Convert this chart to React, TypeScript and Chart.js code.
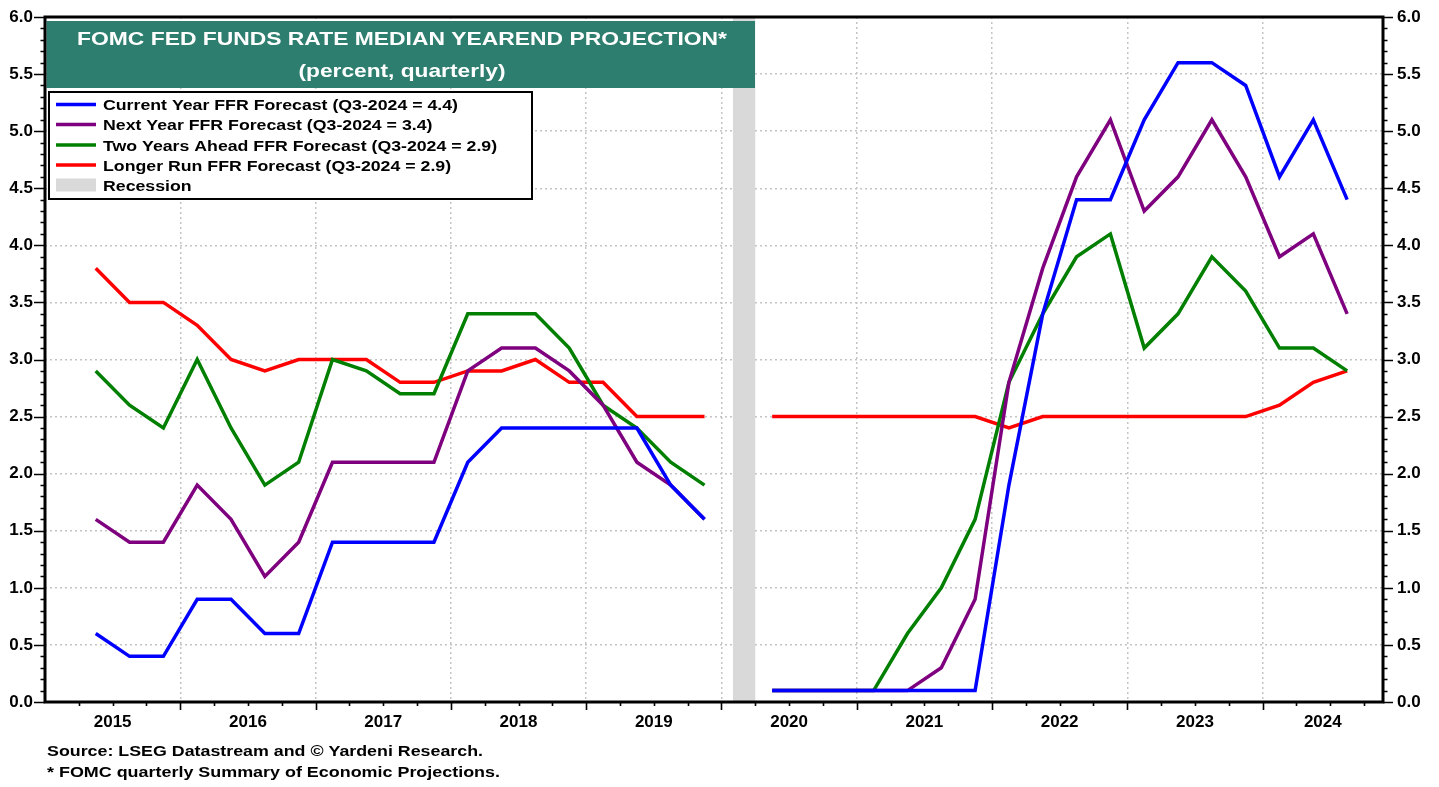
import React, { useEffect, useRef } from 'react';
import { Chart, registerables } from 'chart.js';

Chart.register(...registerables);

// ---------- DATA ----------
const TITLE = 'FOMC FED FUNDS RATE MEDIAN YEAREND PROJECTION*';
const SUBTITLE = '(percent, quarterly)';
const NOTE_SOURCE = 'Source: LSEG Datastream and \u00A9 Yardeni Research.';
const NOTE_FOOT = '* FOMC quarterly Summary of Economic Projections.';

const YEAR_LABELS = ['2015', '2016', '2017', '2018', '2019', '2020', '2021', '2022', '2023', '2024'];
const Y_TICK_VALUES = [0, 0.5, 1, 1.5, 2, 2.5, 3, 3.5, 4, 4.5, 5, 5.5, 6];
const X_RANGE = [2015, 2024.89];

const QUARTERS = [
  '2015-Q2', '2015-Q3', '2015-Q4',
  '2016-Q1', '2016-Q2', '2016-Q3', '2016-Q4',
  '2017-Q1', '2017-Q2', '2017-Q3', '2017-Q4',
  '2018-Q1', '2018-Q2', '2018-Q3', '2018-Q4',
  '2019-Q1', '2019-Q2', '2019-Q3', '2019-Q4',
  '2020-Q1', '2020-Q2', '2020-Q3', '2020-Q4',
  '2021-Q1', '2021-Q2', '2021-Q3', '2021-Q4',
  '2022-Q1', '2022-Q2', '2022-Q3', '2022-Q4',
  '2023-Q1', '2023-Q2', '2023-Q3', '2023-Q4',
  '2024-Q1', '2024-Q2', '2024-Q3',
];

const CURRENT_YEAR = [
  0.6, 0.4, 0.4,
  0.9, 0.9, 0.6, 0.6,
  1.4, 1.4, 1.4, 1.4,
  2.1, 2.4, 2.4, 2.4,
  2.4, 2.4, 1.9, 1.6,
  null, 0.1, 0.1, 0.1,
  0.1, 0.1, 0.1, 0.1,
  1.9, 3.4, 4.4, 4.4,
  5.1, 5.6, 5.6, 5.4,
  4.6, 5.1, 4.4,
];
const NEXT_YEAR = [
  1.6, 1.4, 1.4,
  1.9, 1.6, 1.1, 1.4,
  2.1, 2.1, 2.1, 2.1,
  2.9, 3.1, 3.1, 2.9,
  2.6, 2.1, 1.9, 1.6,
  null, 0.1, 0.1, 0.1,
  0.1, 0.1, 0.3, 0.9,
  2.8, 3.8, 4.6, 5.1,
  4.3, 4.6, 5.1, 4.6,
  3.9, 4.1, 3.4,
];
const TWO_YEARS_AHEAD = [
  2.9, 2.6, 2.4,
  3.0, 2.4, 1.9, 2.1,
  3.0, 2.9, 2.7, 2.7,
  3.4, 3.4, 3.4, 3.1,
  2.6, 2.4, 2.1, 1.9,
  null, 0.1, 0.1, 0.1,
  0.1, 0.6, 1.0, 1.6,
  2.8, 3.4, 3.9, 4.1,
  3.1, 3.4, 3.9, 3.6,
  3.1, 3.1, 2.9,
];
const LONGER_RUN = [
  3.8, 3.5, 3.5,
  3.3, 3.0, 2.9, 3.0,
  3.0, 3.0, 2.8, 2.8,
  2.9, 2.9, 3.0, 2.8,
  2.8, 2.5, 2.5, 2.5,
  null, 2.5, 2.5, 2.5,
  2.5, 2.5, 2.5, 2.5,
  2.4, 2.5, 2.5, 2.5,
  2.5, 2.5, 2.5, 2.5,
  2.6, 2.8, 2.9,
];

const SERIES_LABELS = [
  'Current Year FFR Forecast (Q3-2024 = 4.4)',
  'Next Year FFR Forecast (Q3-2024 = 3.4)',
  'Two Years Ahead FFR Forecast (Q3-2024 = 2.9)',
  'Longer Run FFR Forecast (Q3-2024 = 2.9)',
];
const SERIES_COLORS = ['#0000ff', '#7f007f', '#007f00', '#ff0000'];
const RECESSION_LABEL = 'Recession';
const RECESSION_PERIOD = [2020.085, 2020.25]; // Feb 2020 - Apr 2020

// ---------- STYLE ----------
const FONT = '"Liberation Sans", Arial, Helvetica, sans-serif';
const GRID_COLOR = '#c4c4c4';
const TEAL = '#2e7e6f';
const RECESSION_COLOR = '#d9d9d9';

const quarterToX = (q: string) => {
  const [y, qq] = q.split('-Q');
  return Number(y) + (Number(qq) - 0.5) / 4;
};

function drawFitText(
  ctx: CanvasRenderingContext2D,
  text: string,
  x: number,
  y: number,
  size: number,
  width: number,
  align: CanvasTextAlign,
  color: string
) {
  ctx.save();
  ctx.font = `bold ${size}px ${FONT}`;
  ctx.fillStyle = color;
  ctx.textBaseline = 'alphabetic';
  ctx.textAlign = align;
  const w = ctx.measureText(text).width || 1;
  ctx.translate(x, y);
  ctx.scale(width / w, 1);
  ctx.fillText(text, 0, 0);
  ctx.restore();
}

const decorPlugin = {
  id: 'decor',
  beforeDatasetsDraw(chart: any) {
    const { ctx, chartArea: a, scales } = chart;
    const x = scales.x;
    const x1 = x.getPixelForValue(RECESSION_PERIOD[0]);
    const x2 = x.getPixelForValue(RECESSION_PERIOD[1]);
    ctx.save();
    ctx.fillStyle = RECESSION_COLOR;
    ctx.fillRect(x1, a.top, x2 - x1, a.bottom - a.top);
    ctx.restore();
  },
  afterDatasetsDraw(chart: any) {
    const { ctx, chartArea: a } = chart;
    // Title box
    const bl = a.left + 1.5;
    const br = 755;
    const bt = a.top + 4;
    const bb = 88;
    ctx.save();
    ctx.fillStyle = TEAL;
    ctx.fillRect(bl, bt, br - bl, bb - bt);
    ctx.restore();
    drawFitText(ctx, TITLE, 402, 45, 19, 650, 'center', '#ffffff');
    drawFitText(ctx, SUBTITLE, 402, 77, 19, 207, 'center', '#ffffff');

    // Legend box
    const lx = 49, ly = 92, lw = 483, lh = 107;
    ctx.save();
    ctx.fillStyle = '#ffffff';
    ctx.fillRect(lx, ly, lw, lh);
    ctx.strokeStyle = '#000000';
    ctx.lineWidth = 2;
    ctx.strokeRect(lx, ly, lw, lh);
    ctx.restore();

    const rowY = [104.5, 124.5, 145, 165, 185];
    ctx.save();
    ctx.font = `bold 15.5px ${FONT}`;
    const ref = ctx.measureText(SERIES_LABELS[0]).width || 1;
    ctx.restore();
    const sx = 355 / ref;
    SERIES_LABELS.forEach((lab, i) => {
      ctx.save();
      ctx.strokeStyle = SERIES_COLORS[i];
      ctx.lineWidth = 3.5;
      ctx.beginPath();
      ctx.moveTo(56, rowY[i]);
      ctx.lineTo(96, rowY[i]);
      ctx.stroke();
      ctx.restore();
      ctx.save();
      ctx.font = `bold 15.5px ${FONT}`;
      const w = ctx.measureText(lab).width;
      ctx.restore();
      drawFitText(ctx, lab, 103, rowY[i] + 5.5, 15.5, w * sx, 'left', '#000000');
    });
    ctx.save();
    ctx.fillStyle = RECESSION_COLOR;
    ctx.fillRect(56, rowY[4] - 6.5, 40, 13);
    ctx.font = `bold 15.5px ${FONT}`;
    const rw = ctx.measureText(RECESSION_LABEL).width;
    ctx.restore();
    drawFitText(ctx, RECESSION_LABEL, 103, rowY[4] + 5.5, 15.5, rw * sx, 'left', '#000000');
  },
  afterDraw(chart: any) {
    const { ctx, chartArea: a, scales } = chart;
    const x = scales.x;
    const y = scales.y;
    ctx.save();
    ctx.strokeStyle = '#000000';
    ctx.lineWidth = 1.6;
    ctx.beginPath();
    const nq = Math.floor((X_RANGE[1] - X_RANGE[0]) * 4);
    for (let k = 1; k <= nq; k++) {
      const px = Math.round(x.getPixelForValue(X_RANGE[0] + k / 4)) + 0.5;
      const len = k % 4 === 0 ? 8 : 4;
      ctx.moveTo(px, a.bottom);
      ctx.lineTo(px, a.bottom + len);
    }
    for (let k = 0; k <= 60; k++) {
      const py = Math.round(y.getPixelForValue(k / 10)) + 0.5;
      const major = k % 5 === 0;
      ctx.moveTo(a.left, py);
      ctx.lineTo(a.left - (major ? 11 : 4.5), py);
      ctx.moveTo(a.right, py);
      ctx.lineTo(a.right + (major ? 10 : 4.5), py);
    }
    ctx.stroke();
    ctx.lineWidth = 3;
    ctx.strokeRect(a.left, a.top, a.right - a.left, a.bottom - a.top);
    ctx.restore();

    drawFitText(ctx, NOTE_SOURCE, 47, 756, 15.5, 436, 'left', '#000000');
    drawFitText(ctx, NOTE_FOOT, 47, 777, 15.5, 453, 'left', '#000000');
  },
};

export default function App() {
  const canvasRef = useRef<HTMLCanvasElement | null>(null);

  useEffect(() => {
    const canvas = canvasRef.current;
    if (!canvas) return;
    const seriesValues = [CURRENT_YEAR, NEXT_YEAR, TWO_YEARS_AHEAD, LONGER_RUN];
    const tickFont = { family: FONT, size: 17, weight: 'bold' as const };

    const chart = new Chart(canvas, {
      type: 'line',
      data: {
        datasets: seriesValues.map((vals, i) => ({
          label: SERIES_LABELS[i],
          data: QUARTERS.map((q, j) => ({ x: quarterToX(q), y: vals[j] })),
          borderColor: SERIES_COLORS[i],
          backgroundColor: SERIES_COLORS[i],
          borderWidth: 3.5,
          pointRadius: 0,
          pointHoverRadius: 0,
          tension: 0,
          spanGaps: false,
          borderJoinStyle: 'miter' as const,
          yAxisID: 'y',
        })),
      },
      options: {
        animation: false,
        responsive: false,
        maintainAspectRatio: false,
        events: [],
        layout: { padding: { top: 17, left: 0, right: 0, bottom: 0 } },
        plugins: {
          legend: { display: false },
          title: { display: false },
          tooltip: { enabled: false },
        },
        scales: {
          x: {
            type: 'linear',
            min: X_RANGE[0],
            max: X_RANGE[1],
            afterBuildTicks: (scale: any) => {
              const ticks: { value: number }[] = [];
              YEAR_LABELS.forEach((lab) => {
                const start = Number(lab);
                const end = Math.min(start + 1, X_RANGE[1]);
                ticks.push({ value: start });
                ticks.push({ value: (start + end) / 2 });
              });
              scale.ticks = ticks;
            },
            afterFit: (scale: any) => {
              scale.height = 85;
            },
            grid: {
              color: (c: any) =>
                c.tick && Number.isInteger(c.tick.value) && c.tick.value > X_RANGE[0]
                  ? GRID_COLOR
                  : 'rgba(0,0,0,0)',
              lineWidth: 1.5,
              drawTicks: true,
              tickLength: 7,
              tickColor: 'rgba(0,0,0,0)',
            },
            border: { display: false, dash: [2, 3] },
            ticks: {
              autoSkip: false,
              maxRotation: 0,
              minRotation: 0,
              padding: 3.5,
              color: '#000000',
              font: tickFont,
              callback: (v: any) => {
                const n = Number(v);
                if (Number.isInteger(n)) return '';
                return YEAR_LABELS[Math.floor(n) - Number(YEAR_LABELS[0])];
              },
            },
          },
          y: {
            type: 'linear',
            position: 'left',
            min: 0,
            max: 6,
            afterBuildTicks: (scale: any) => {
              scale.ticks = Y_TICK_VALUES.map((v) => ({ value: v }));
            },
            afterFit: (scale: any) => {
              scale.width = 45;
            },
            grid: {
              color: GRID_COLOR,
              lineWidth: 1.5,
              tickLength: 10,
              tickColor: 'rgba(0,0,0,0)',
            },
            border: { display: false, dash: [2, 3] },
            ticks: {
              padding: 2,
              color: '#000000',
              font: tickFont,
              callback: (v: any) => Number(v).toFixed(1),
            },
          },
          y2: {
            type: 'linear',
            position: 'right',
            min: 0,
            max: 6,
            afterBuildTicks: (scale: any) => {
              scale.ticks = Y_TICK_VALUES.map((v) => ({ value: v }));
            },
            afterFit: (scale: any) => {
              scale.width = 56;
            },
            grid: {
              drawOnChartArea: false,
              tickLength: 10,
              tickColor: 'rgba(0,0,0,0)',
            },
            border: { display: false },
            ticks: {
              padding: 4,
              color: '#000000',
              font: tickFont,
              callback: (v: any) => Number(v).toFixed(1),
            },
          },
        },
      } as any,
      plugins: [decorPlugin],
    });

    return () => {
      chart.destroy();
    };
  }, []);

  return (
    <div
      style={{
        position: 'fixed',
        left: 0,
        top: 0,
        width: 1439,
        height: 787,
        background: '#ffffff',
      }}
    >
      <canvas ref={canvasRef} width={1439} height={787} style={{ display: 'block' }} />
    </div>
  );
}
